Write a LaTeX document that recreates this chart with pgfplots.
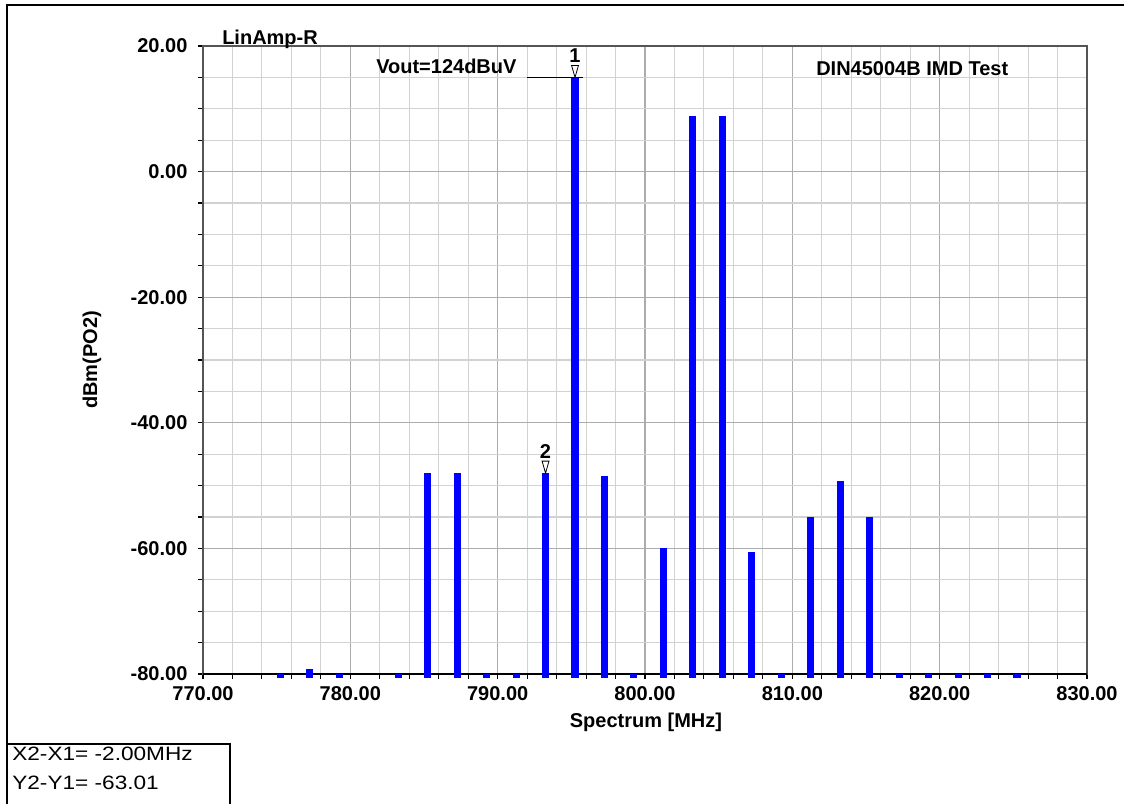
\documentclass[border=0pt]{standalone}
\usepackage{pgfplots}
\usepackage{pgfplotstable}
\pgfplotsset{compat=1.18}
\usepackage{fontspec}
\setmainfont{Liberation Sans}
\definecolor{gridmin}{RGB}{210,210,210}
\definecolor{gridmaj}{RGB}{172,172,172}
\definecolor{framec}{RGB}{85,85,85}
\definecolor{barblue}{RGB}{0,0,255}
\newcommand\lblfont{\fontsize{15}{18}\selectfont\bfseries}

% frequency [MHz], level [dBm]
\pgfplotstableread{
f       p
775.25  -80.0
777.25  -79.2
779.25  -80.0
783.25  -80.0
785.25  -48.0
787.25  -48.0
789.25  -80.0
791.25  -80.0
793.25  -48.01
795.25  15.0
797.25  -48.4
799.25  -80.0
801.25  -60.0
803.25  8.9
805.25  8.9
807.25  -60.6
809.25  -80.0
811.25  -55.0
813.25  -49.3
815.25  -55.0
817.25  -80.0
819.25  -80.0
821.25  -80.0
823.25  -80.0
825.25  -80.0
}\spectrum

\begin{document}
\begin{tikzpicture}
\begin{axis}[
  at={(152.25pt,-505.5pt)}, anchor=south west,
  scale only axis, width=663pt, height=471pt,
  xmin=770, xmax=830, ymin=-80, ymax=20,
  xtick={770,780,...,830}, ytick={-80,-60,...,20},
  minor x tick num=4, minor y tick num=3,
  grid=both,
  major grid style={gridmaj, line width=0.8pt},
  minor grid style={gridmin, line width=0.8pt},
  tick align=outside, tick pos=left,
  major tick length=3.5pt, minor tick length=3.5pt,
  every tick/.style={black, line width=0.8pt},
  axis line style={framec, line width=1.3pt},
  /pgf/number format/assume math mode=true,
  ticklabel style={font=\lblfont, inner sep=0pt},
  xticklabel style={anchor=north, yshift=-6pt},
  yticklabel style={anchor=east, xshift=-8pt},
  xticklabel={\pgfmathprintnumber[fixed,fixed zerofill,precision=2]{\tick}},
  yticklabel={\pgfmathprintnumber[fixed,fixed zerofill,precision=2]{\tick}},
  clip=false,
]
\draw[black, line width=1.5pt] (axis cs:770,-80) -- (axis cs:830,-80);

% spectral lines: drawn down from each level to just under the floor
\addplot[draw=none, mark=none,
  error bars/.cd, y dir=minus, y explicit,
  error mark=none,
  error bar style={barblue, line width=5.3pt}]
  table[x=f, y=p, y error expr=\thisrow{p}+80.6] {\spectrum};

% marker line and marker anchors
\draw[black, line width=1pt] (axis cs:792.0,15) -- (axis cs:795.8,15);
\coordinate (m1) at (axis cs:795.25,15);
\coordinate (m2) at (axis cs:793.25,-48.01);
\end{axis}

% marker triangles
\foreach \m/\t in {m1/1,m2/2} {
  \draw[black, line width=0.6pt, fill=white]
    (\m) -- ([shift={(-2.6pt,9pt)}]\m) -- ([shift={(2.6pt,9pt)}]\m) -- cycle;
  \node[font=\lblfont, anchor=base, inner sep=0pt] at ([yshift=11pt]\m) {\t};
}

\begin{scope}[x=0.75pt,y=-0.75pt]
  \draw[black, line width=1.5pt] (7,804) -- (7,5) -- (1124,5);
  \node[font=\lblfont, anchor=base west, inner sep=0pt] at (222,44) {LinAmp-R};
  \node[font=\lblfont, anchor=base west, inner sep=0pt] at (376,73) {Vout=124dBuV};
  \node[font=\lblfont, anchor=base west, inner sep=0pt] at (816,75) {DIN45004B IMD Test};
  \node[font=\lblfont, anchor=base, inner sep=0pt] at (646,727) {Spectrum [MHz]};
  \node[font=\lblfont, anchor=base, inner sep=0pt, rotate=90] at (97,360) {dBm(PO2)};
  \draw[black, line width=0.9pt] (7,744) -- (230,744) -- (230,804);
  \node[font=\fontsize{14.5}{17}\selectfont, anchor=base west, inner sep=0pt, xscale=1.17] at (12,760) {X2-X1= -2.00MHz};
  \node[font=\fontsize{14.5}{17}\selectfont, anchor=base west, inner sep=0pt, xscale=1.17] at (12,789) {Y2-Y1= -63.01};
  \pgfresetboundingbox
  \path[use as bounding box] (0,0) rectangle (1125,804);
\end{scope}
\end{tikzpicture}
\end{document}
